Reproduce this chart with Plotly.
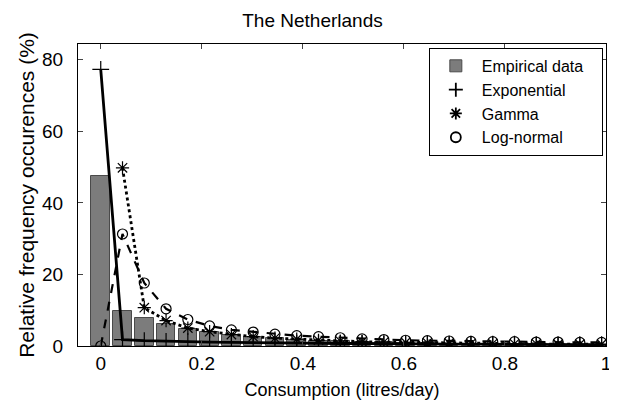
import plotly.graph_objects as go

step = 0.0431
x_vals = [round(k * step, 4) for k in range(24)]

empirical = [47.5, 9.9, 7.7, 6.1, 4.7, 4.0, 3.1, 2.5, 2.1, 1.8, 1.5, 1.3,
             1.1, 1.0, 0.9, 0.8, 0.7, 0.6, 0.5, 0.5, 0.4, 0.4, 0.3, 0.3]
exponential = [77.3, 1.8, 1.5, 1.3, 1.2, 1.1, 1.0, 0.9, 0.9, 0.8, 0.8, 0.7,
               0.7, 0.6, 0.6, 0.6, 0.5, 0.5, 0.5, 0.5, 0.4, 0.4, 0.4, 0.4]
gamma = [None, 49.8, 10.7, 7.1, 5.0, 4.0, 3.2, 2.6, 2.2, 1.9, 1.6, 1.4,
         1.2, 1.1, 1.0, 0.9, 0.8, 0.7, 0.7, 0.6, 0.6, 0.5, 0.5, 0.5]
lognormal = [0.0, 31.3, 17.6, 10.4, 7.4, 5.6, 4.5, 3.9, 3.3, 2.9, 2.6, 2.3,
             2.0, 1.8, 1.6, 1.5, 1.4, 1.3, 1.2, 1.2, 1.1, 1.1, 1.0, 1.0]

x_ticks = [0, 0.2, 0.4, 0.6, 0.8, 1]
x_tick_text = ["0", "0.2", "0.4", "0.6", "0.8", "1"]
y_ticks = [0, 20, 40, 60, 80]

font = "Liberation Sans, Arial, Helvetica, sans-serif"

fig = go.Figure()
fig.add_trace(go.Bar(x=x_vals, y=empirical, width=[step * 0.85] * len(x_vals),
                     marker=dict(color="#7c7c7c", line=dict(color="#4a4a4a", width=1)),
                     name="Empirical data\u00a0\u00a0\u00a0", showlegend=True))
fig.add_trace(go.Scatter(x=x_vals, y=lognormal, mode="lines+markers",
                         line=dict(color="black", width=2.2, dash="dash"),
                         marker=dict(symbol="circle-open", size=10, color="black", line=dict(width=1.2)),
                         showlegend=False))
fig.add_trace(go.Scatter(x=x_vals, y=gamma, mode="lines+markers",
                         line=dict(color="black", width=2.8, dash="dot"),
                         marker=dict(symbol="asterisk-open", size=11, color="black", line=dict(width=1.2)),
                         showlegend=False))
fig.add_trace(go.Scatter(x=x_vals, y=exponential, mode="lines+markers",
                         line=dict(color="black", width=2.8),
                         marker=dict(symbol="cross-thin-open", size=12, color="black", line=dict(width=1.2)),
                         showlegend=False))
# legend-only entries (markers only, as in the reference)
for nm, sym in [("Exponential", "cross-thin-open"), ("Gamma", "asterisk-open"), ("Log-normal", "circle-open")]:
    fig.add_trace(go.Scatter(x=[None], y=[None], mode="markers", name=nm,
                             marker=dict(symbol=sym, size=10, color="black", line=dict(width=1.8))))

# the page body adds an 8px offset, so the figure is sized 8px smaller
fig.update_layout(
    width=609, height=392,
    margin=dict(l=70, r=11, t=36, b=54),
    paper_bgcolor="white", plot_bgcolor="white",
    font=dict(family=font, size=19, color="black"),
    title=dict(text="The Netherlands", x=0.5, xanchor="center", y=0.968, yanchor="middle",
               font=dict(size=19)),
    bargap=0,
    legend=dict(x=0.994, xanchor="right", y=0.987, yanchor="top",
                bgcolor="white", bordercolor="black", borderwidth=1,
                font=dict(size=16), itemwidth=42, tracegroupgap=0),
    xaxis=dict(range=[-0.045, 1.0], tickvals=x_ticks, ticktext=x_tick_text,
               ticks="inside", ticklen=5, showline=True, linecolor="black", linewidth=1,
               mirror="ticks", showgrid=False, zeroline=False, automargin=False,
               title=dict(text="Consumption (litres/day)", font=dict(size=18), standoff=15)),
    yaxis=dict(range=[0, 84.4], tickvals=y_ticks,
               ticks="inside", ticklen=5, showline=True, linecolor="black", linewidth=1,
               mirror="ticks", showgrid=False, zeroline=False, automargin=False,
               ticklabelstandoff=10,
               title=dict(text="Relative frequency occurences (%)", font=dict(size=21), standoff=1)),
)

fig.write_html("out.html")
